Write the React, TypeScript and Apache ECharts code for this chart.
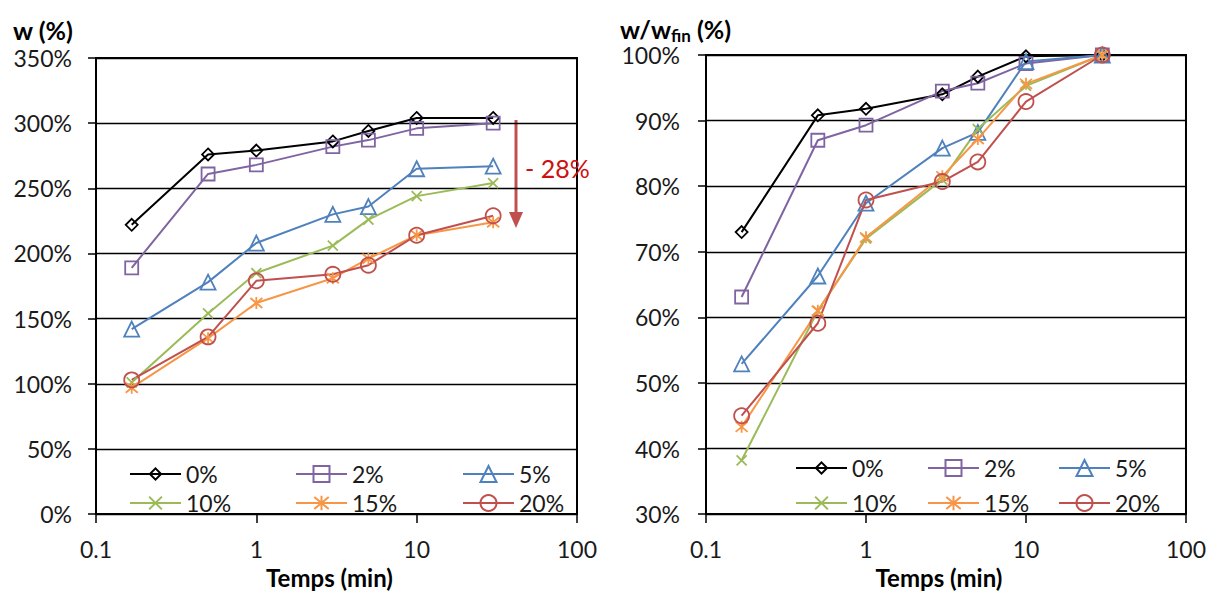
import React, { useEffect, useRef } from "react";
import * as echarts from "echarts";

// ---- data ----
const times = [0.167, 0.5, 1, 3, 5, 10, 30];
const seriesNames = ["0%", "2%", "5%", "10%", "15%", "20%"];

const w0 = [222, 276, 279, 286, 294, 304, 304];
const w2 = [189, 261, 268, 282, 287, 296, 300];
const w5 = [142, 178, 208, 230, 236, 265, 267];
const w10 = [101, 154, 185, 206, 226, 244, 254];
const w15 = [97, 135, 162, 181, 196, 214, 224];
const w20 = [103, 136, 179, 184, 191, 214, 229];

const r0 = [73.0, 90.8, 91.8, 94.0, 96.7, 99.8, 100];
const r2 = [63.1, 87.0, 89.3, 94.5, 95.7, 98.7, 100];
const r5 = [52.9, 66.3, 77.4, 85.8, 88.2, 99.0, 100];
const r10 = [38.2, 61.0, 72.0, 81.0, 88.7, 95.3, 100];
const r15 = [43.3, 61.0, 72.2, 81.5, 87.2, 95.6, 100];
const r20 = [45.0, 59.1, 77.9, 80.7, 83.7, 92.9, 100];

const leftY = { min: 0, max: 350, interval: 50 };
const rightY = { min: 30, max: 100, interval: 10 };
const xRange = { min: 0.1, max: 100 };

const xTitle = "Temps (min)";
const annotationText = "- 28%";

// ---- styles ----
const COLORS = ["#000000", "#8064A2", "#4F81BD", "#9BBB59", "#F79646", "#C0504D"];
const SYMBOLS = [
  "diamond",
  "rect",
  "triangle",
  "path://M0 0L10 10M10 0L0 10",
  "path://M0 0L10 10M10 0L0 10M5 -1L5 11",
  "circle",
];
const SIZES = [12, 13, 15, 10, 12, 15];
const LEGEND_H = [14, 20, 20, 16, 18, 20];
const FONT = 'Lato, "Open Sans", "Noto Sans", sans-serif';
const TEXT = "#1a1a1a";
const FS = 23;

function makeSeries(values: number[][], idx: number) {
  return values.map((vals, i) => ({
    type: "line",
    name: seriesNames[i],
    xAxisIndex: idx,
    yAxisIndex: idx,
    data: times.map((t, j) => [t, vals[j]]),
    symbol: SYMBOLS[i],
    symbolSize: SIZES[i],
    showAllSymbol: true,
    lineStyle: { color: COLORS[i], width: 2 },
    itemStyle: { color: "transparent", borderColor: COLORS[i], borderWidth: 1.8 },
    emphasis: { disabled: true },
  }));
}

function makeXAxis(gridIndex: number, nameGap: number) {
  return {
    type: "log",
    logBase: 10,
    gridIndex,
    min: xRange.min,
    max: xRange.max,
    axisLine: { show: true, lineStyle: { color: "#000", width: 2 } },
    axisTick: { show: true, length: 9, lineStyle: { color: "#000", width: 1.5 } },
    minorTick: { show: false },
    splitLine: { show: false },
    axisLabel: {
      margin: 23,
      fontSize: FS,
      fontFamily: FONT,
      color: TEXT,
      formatter: (v: number) => String(Number(v.toPrecision(3))),
    },
    name: xTitle,
    nameLocation: "middle",
    nameGap,
    nameTextStyle: {
      fontSize: 24,
      fontWeight: "bold",
      fontFamily: FONT,
      color: "#000",
      padding: [0, 14, 0, 0],
    },
  };
}

function makeYAxis(gridIndex: number, r: { min: number; max: number; interval: number }, margin: number) {
  return {
    type: "value",
    gridIndex,
    min: r.min,
    max: r.max,
    interval: r.interval,
    axisLine: { show: true, lineStyle: { color: "#000", width: 2 } },
    axisTick: { show: true, length: 8, lineStyle: { color: "#000", width: 1.5 } },
    splitLine: { show: true, lineStyle: { color: "#000", width: 1.3 } },
    axisLabel: {
      margin,
      fontSize: FS,
      fontFamily: FONT,
      color: TEXT,
      formatter: (v: number) => `${v}%`,
    },
  };
}

const legendCols = [
  [129, 295, 462],
  [795, 927, 1058],
];
const legendRows = [
  [474, 503],
  [468, 503],
];

function makeLegends() {
  const out: any[] = [];
  for (let c = 0; c < 2; c++) {
    seriesNames.forEach((name, i) => {
      const row = Math.floor(i / 3);
      const col = i % 3;
      out.push({
        data: [name],
        left: legendCols[c][col],
        top: legendRows[c][row] - 11.5,
        orient: "horizontal",
        padding: 0,
        itemWidth: 51,
        itemHeight: LEGEND_H[i],
        selectedMode: false,
        textStyle: { fontSize: FS, lineHeight: 23, fontFamily: FONT, color: TEXT },
      });
    });
  }
  return out;
}

export default function App() {
  const ref = useRef<HTMLDivElement>(null);
  useEffect(() => {
    document.body.style.margin = "0";
    if (!ref.current) return;
    const chart = echarts.init(ref.current, undefined, { renderer: "svg" });
    chart.setOption({
      animation: false,
      backgroundColor: "#ffffff",
      grid: [
        { left: 96, top: 58, width: 481, height: 466, show: true, borderColor: "#000", borderWidth: 2 },
        { left: 706, top: 55, width: 481, height: 463, show: true, borderColor: "#000", borderWidth: 2 },
      ],
      xAxis: [makeXAxis(0, 48), makeXAxis(1, 50)],
      yAxis: [makeYAxis(0, leftY, 24), makeYAxis(1, rightY, 26)],
      legend: makeLegends(),
      series: [
        ...makeSeries([w0, w2, w5, w10, w15, w20], 0),
        ...makeSeries([r0, r2, r5, r10, r15, r20], 1),
      ],
      graphic: [
        {
          type: "text",
          x: 13,
          y: 30,
          style: {
            text: "w (%)",
            fontSize: 25,
            fontWeight: "bold",
            fontFamily: FONT,
            fill: "#000",
            verticalAlign: "middle",
          },
        },
        {
          type: "text",
          x: 620,
          y: 29,
          style: {
            text: "{a|w/w}{b|fin}{a| (%)}",
            verticalAlign: "middle",
            rich: {
              a: { fontSize: 25, fontWeight: "bold", fontFamily: FONT, fill: "#000", lineHeight: 30 },
              b: {
                fontSize: 17,
                fontWeight: "bold",
                fontFamily: FONT,
                fill: "#000",
                lineHeight: 30,
                padding: [12, 0, 0, 0],
              },
            },
          },
        },
        {
          type: "line",
          shape: { x1: 516, y1: 120, x2: 516, y2: 214 },
          style: { stroke: "#C0504D", lineWidth: 3 },
        },
        {
          type: "polygon",
          shape: { points: [[509, 212], [523, 212], [516, 228]] },
          style: { fill: "#C0504D" },
        },
        {
          type: "text",
          x: 525,
          y: 168,
          style: {
            text: annotationText,
            fontSize: 25,
            fontFamily: FONT,
            fill: "#CC1010",
            verticalAlign: "middle",
          },
        },
      ],
    });
    return () => chart.dispose();
  }, []);
  return <div ref={ref} style={{ width: 1209, height: 594 }} />;
}
